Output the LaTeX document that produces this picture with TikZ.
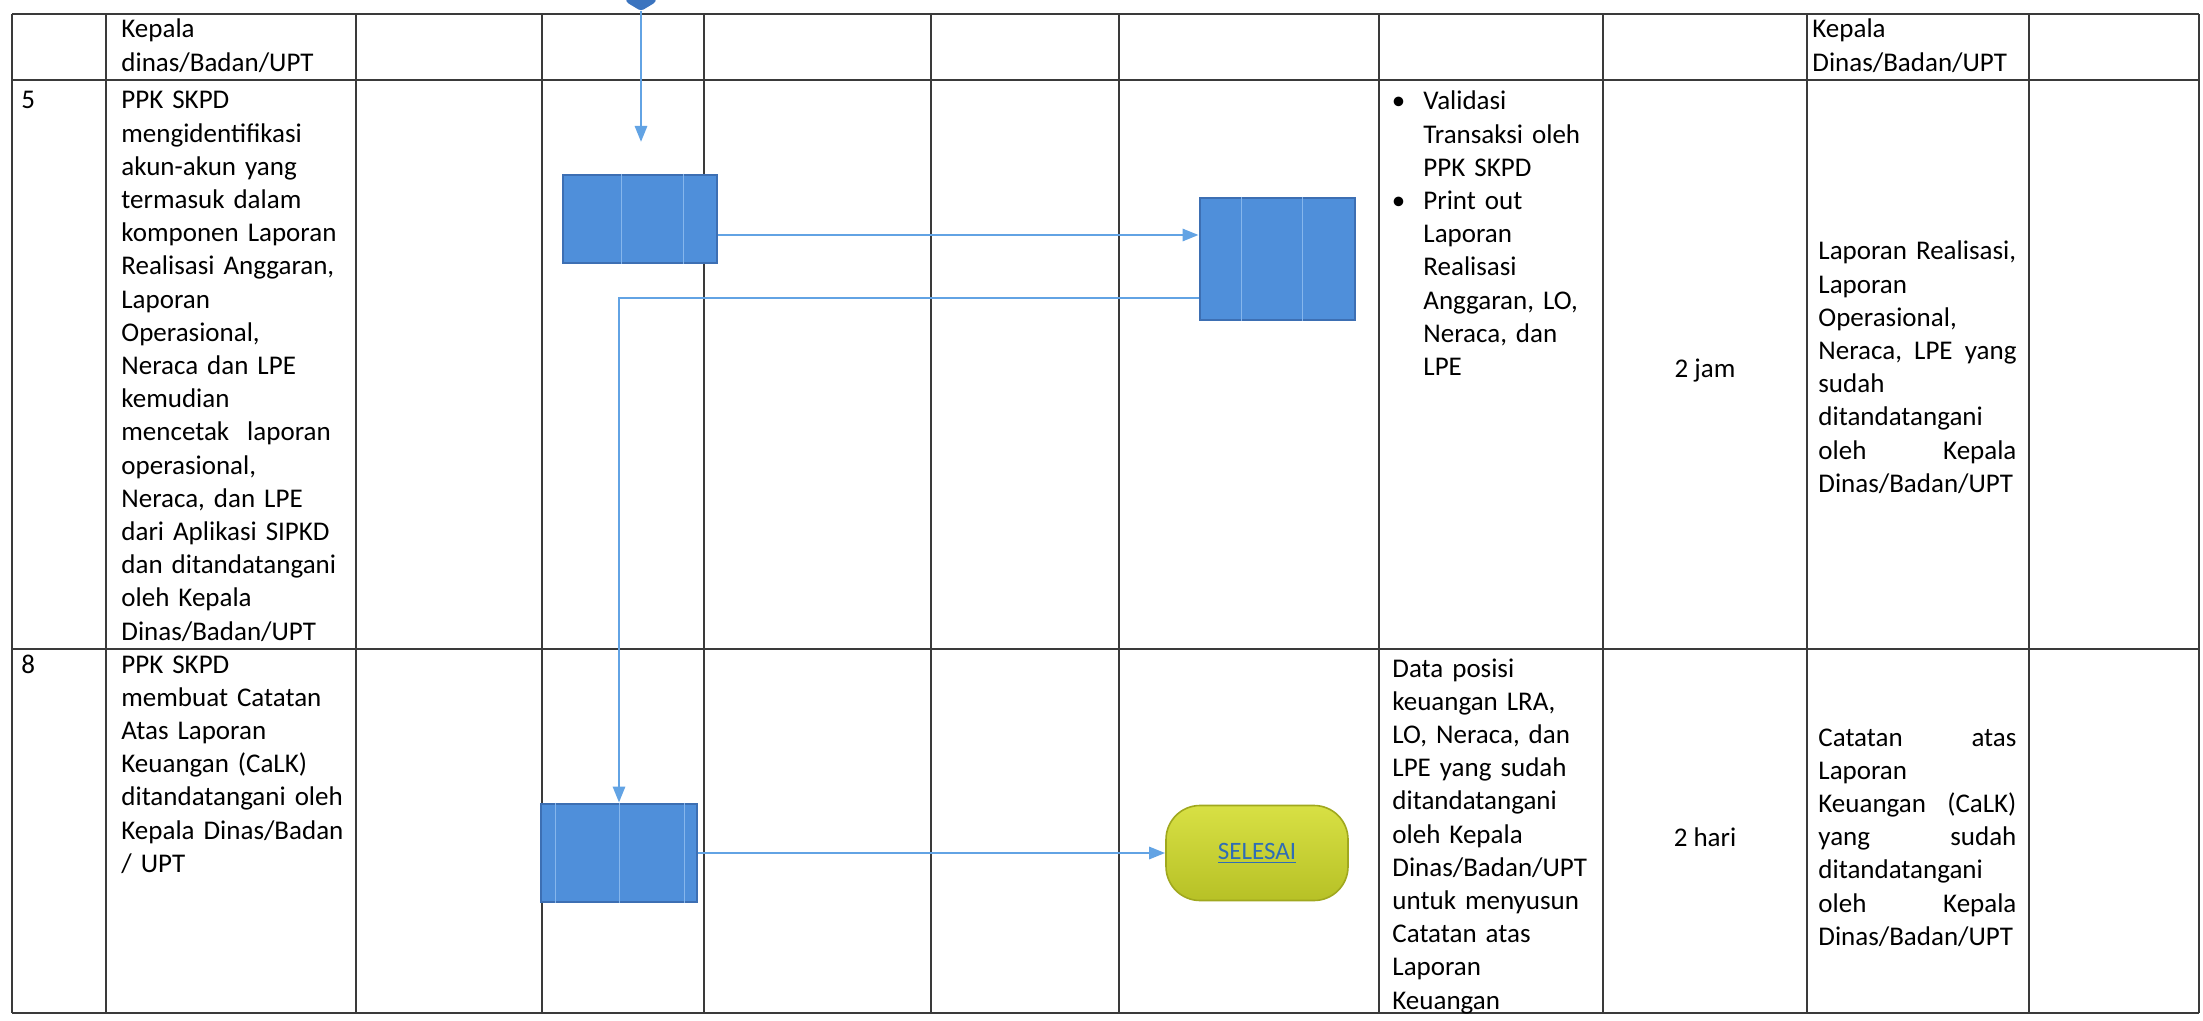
\documentclass[tikz,border=0pt]{standalone}
\usepackage{fontspec}
\setmainfont{Carlito}
\usetikzlibrary{arrows.meta,calc}
\definecolor{gridline}{HTML}{3A3A3A}
\definecolor{boxfill}{HTML}{4F8FDA}
\definecolor{boxedge}{HTML}{3D6FB3}
\definecolor{boxvein}{HTML}{86B6EC}
\definecolor{flowline}{HTML}{62A3E4}
\definecolor{termfillA}{HTML}{D8E044}
\definecolor{termfillB}{HTML}{B7C126}
\definecolor{termedge}{HTML}{A0A81E}
\definecolor{linkblue}{HTML}{2F6DB5}
\definecolor{connblue}{HTML}{3B74BF}
\begin{document}
\begin{tikzpicture}[x=0.5pt,y=-0.5pt,
  grid/.style={draw=gridline,line width=0.9pt},
  body/.style={font=\fontsize{13.5}{16.6}\selectfont,inner sep=0pt,anchor=base west,align=left},
  plain/.style={font=\fontsize{13.5}{16.6}\selectfont,inner sep=0pt,anchor=base},
  procbox/.style={draw=boxedge,fill=boxfill,line width=1.4pt,inner sep=0pt},
  vein/.style={draw=boxvein,line width=0.5pt},
  flow/.style={draw=flowline,line width=1.4pt,-{Triangle[length=8pt,width=6pt]}},
  term/.style={draw=termedge,line width=0.8pt,top color=termfillA,bottom color=termfillB,
    rounded corners=17pt,minimum width=91pt,minimum height=47.5pt,inner sep=0pt,
    text=linkblue,font=\fontsize{12.5}{14}\selectfont}
]
\useasboundingbox (0,0) rectangle (2203,1021);
\fill[white] (0,0) rectangle (2203,1021);

% table rules
\foreach \x in {12,106,356,542,704,931,1119,1379,1603,1807,2029,2199}
  \draw[grid] (\x,14) -- (\x,1013);
\foreach \y in {14,80,649,1013}
  \draw[grid] (12,\y) -- (2199,\y);

% row headers (continued from previous page)
\node[body,text width=118pt] (h2) at (121,38) {Kepala\\dinas/Badan/UPT};
\node[body,text width=99pt] (h10) at (1812,38) {Kepala\\Dinas/Badan/UPT};

% step 5
\node[body] (n5) at (21,109) {5};
\node[body,text width=118pt] (d5) at (121,109) {PPK SKPD\\mengidentifikasi\\akun-akun yang\\termasuk dalam\\komponen Laporan\\Realisasi Anggaran,\\Laporan\\Operasional,\\Neraca dan LPE\\kemudian\\mencetak\ \ laporan\\operasional,\\Neraca, dan LPE\\dari Aplikasi SIPKD\\dan ditandatangani\\oleh Kepala\\Dinas/Badan/UPT};
\node[body,text width=90pt] (in5) at (1423,110) {\leavevmode\llap{•\hspace{9pt}}Validasi\\Transaksi oleh\\PPK SKPD\\\leavevmode\llap{•\hspace{9pt}}Print out\\Laporan\\Realisasi\\Anggaran, LO,\\Neraca, dan\\LPE};
\node[plain] (t5) at (1705,377) {2 jam};
\node[body,text width=99pt] (o5) at (1818,260) {Laporan Realisasi,\\Laporan\\Operasional,\\Neraca,\hfill LPE\hfill yang\\sudah\\ditandatangani\\oleh\hfill Kepala\\Dinas/Badan/UPT};

% step 8
\node[body] (n8) at (21,673) {8};
\node[body,text width=118pt] (d8) at (121,673) {PPK SKPD\\membuat Catatan\\Atas Laporan\\Keuangan (CaLK)\\ditandatangani oleh\\Kepala Dinas/Badan\\/ UPT};
\node[body,text width=105pt] (in8) at (1392,677) {Data posisi\\keuangan LRA,\\LO, Neraca, dan\\LPE yang sudah\\ditandatangani\\oleh Kepala\\Dinas/Badan/UPT\\untuk menyusun\\Catatan atas\\Laporan\\Keuangan};
\node[plain] (t8) at (1705,846) {2 hari};
\node[body,text width=99pt] (o8) at (1818,746) {Catatan\hfill atas\\Laporan\\Keuangan\hfill (CaLK)\\yang\hfill sudah\\ditandatangani\\oleh\hfill Kepala\\Dinas/Badan/UPT};

% flow chart shapes
\node[procbox,minimum width=77pt,minimum height=44pt] (box1) at (640,219) {};
\node[procbox,minimum width=77.5pt,minimum height=61pt] (box2) at (1277.5,259) {};
\node[procbox,minimum width=78pt,minimum height=49pt] (box3) at (619,853) {};
\node[term] (selesai) at (1257,853) {\underline{SELESAI}};

\draw[vein] ($(box1.north west)!0.38!(box1.north east)$) -- ($(box1.south west)!0.38!(box1.south east)$);
\draw[vein] ($(box1.north west)!0.78!(box1.north east)$) -- ($(box1.south west)!0.78!(box1.south east)$);
\draw[vein] ($(box2.north west)!0.27!(box2.north east)$) -- ($(box2.south west)!0.27!(box2.south east)$);
\draw[vein] ($(box2.north west)!0.66!(box2.north east)$) -- ($(box2.south west)!0.66!(box2.south east)$);
\draw[vein] ($(box3.north west)!0.10!(box3.north east)$) -- ($(box3.south west)!0.10!(box3.south east)$);
\draw[vein] ($(box3.north west)!0.50!(box3.north east)$) -- ($(box3.south west)!0.50!(box3.south east)$);
\draw[vein] ($(box3.north west)!0.91!(box3.north east)$) -- ($(box3.south west)!0.91!(box3.south east)$);

% off-page connector coming in from above
\coordinate (conn) at (641,11);
\coordinate (entry) at (641,142);
\fill[connblue,rounded corners=1.5pt] (626,-4) -- (626,2) -- (conn) -- (656,2) -- (656,-4) -- cycle;

% connectors
\draw[flow] (conn) -- (entry);
\draw[flow] ([yshift=-8pt]box1.east) -- ([yshift=-8pt]box1.east -| box2.west);
\draw[flow] ([yshift=-19.5pt]box2.west) -| (box3.north);
\draw[flow] (box3.east) -- (selesai.west);
\end{tikzpicture}
\end{document}
